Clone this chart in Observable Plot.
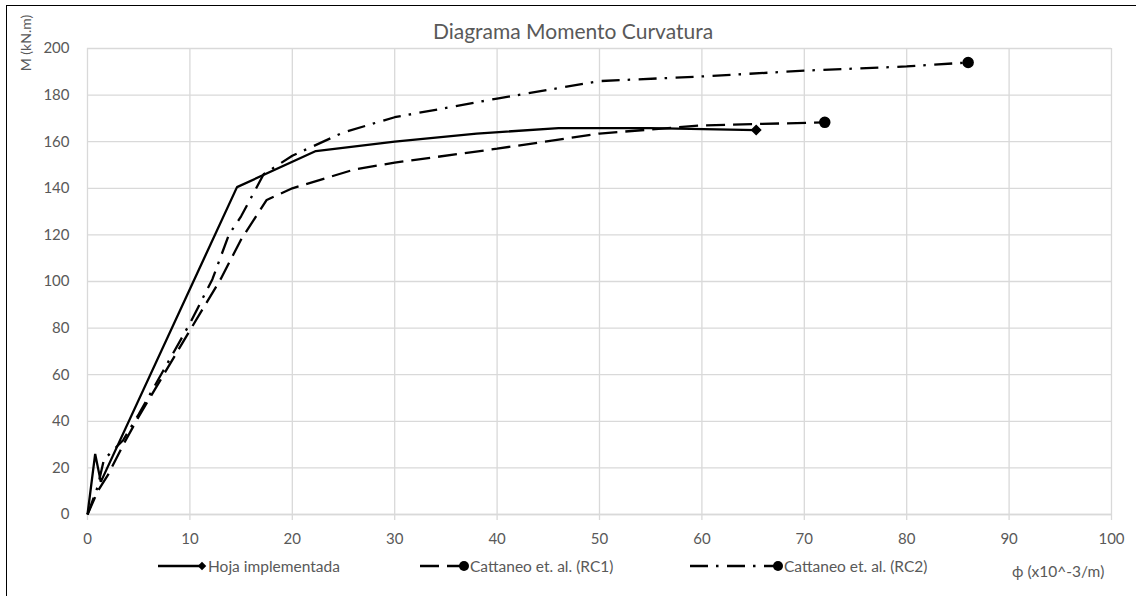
<!DOCTYPE html>
<html>
<head>
<meta charset="utf-8">
<script src="https://cdn.jsdelivr.net/npm/d3@7"></script>
<script src="https://cdn.jsdelivr.net/npm/@observablehq/plot@0.6"></script>
<style>
  html, body { margin: 0; padding: 0; background: #fff; }
  #wrap { position: relative; width: 1136px; height: 596px; overflow: hidden; font-family: Lato, "Open Sans", sans-serif; color: #595959; }
  #frame { position: absolute; left: 6px; top: 5px; width: 1140px; height: 600px; border: 1.5px solid #000; box-sizing: border-box; pointer-events: none; }
  #title { position: absolute; left: 0; width: 1146px; top: 18px; text-align: center; font-size: 21px; }
  #ylab { position: absolute; left: 25px; top: 43px; transform: translate(-50%, -50%) rotate(-90deg); font-size: 14px; white-space: nowrap; }
  #legend { position: absolute; left: 0; top: 555px; width: 1136px; height: 24px; }
  #legend .item { position: absolute; top: 0; display: flex; align-items: center; font-size: 15.5px; height: 22px; color: #595959; }
  #legend svg { display: block; }
  #phi { position: absolute; left: 1012px; top: 562px; font-size: 15.5px; white-space: nowrap; }
  #chart { position: absolute; left: 0; top: 0; }
</style>
</head>
<body>
<div id="wrap">
  <div id="chart"></div>
  <div id="title">Diagrama Momento Curvatura</div>
  <div id="ylab">M (kN.m)</div>
  <div id="legend"></div>
  <div id="phi">ϕ (x10^-3/m)</div>
  <div id="frame"></div>
</div>
<script>
// Series: curvature phi (x10^-3/m) and moment M (kN.m)
const hojaPhi = [0, 0.75, 1.3, 14.6, 22.3, 30, 38, 46, 55, 65.3];
const hojaM   = [0, 26, 14, 140.5, 156, 160, 163.5, 165.8, 165.8, 165];

const rc1Phi = [0, 1, 2, 3.5, 5, 10, 13, 15, 17.5, 20, 26, 30, 40, 50, 60, 72];
const rc1M   = [0, 10, 17, 30, 42, 79, 101, 118, 135, 140, 148, 151, 157, 163.5, 167, 168.3];

const rc2Phi = [0, 1, 1.6, 3.5, 5, 10, 12.2, 13.8, 15, 17.2, 20, 25, 30, 40, 50, 60, 70, 80, 86];
const rc2M   = [0, 12, 23.5, 32, 43, 82, 101, 120, 128, 146, 154, 164, 170.5, 178.5, 186, 188, 190.5, 192.3, 194];

const seriesNames = ["Hoja implementada", "Cattaneo et. al. (RC1)", "Cattaneo et. al. (RC2)"];
const xTicks = [0, 10, 20, 30, 40, 50, 60, 70, 80, 90, 100];
const yTicks = [0, 20, 40, 60, 80, 100, 120, 140, 160, 180, 200];

const toRows = (name, xs, ys) => xs.map((x, i) => ({series: name, phi: x, M: ys[i]}));
const hoja = toRows(seriesNames[0], hojaPhi, hojaM);
const rc1 = toRows(seriesNames[1], rc1Phi, rc1M);
const rc2 = toRows(seriesNames[2], rc2Phi, rc2M);

const styles = [
  {dash: null, symbol: "diamond2", r: 4},
  {dash: "19,8", symbol: "circle", r: 5},
  {dash: "18,8,2.5,8.5", symbol: "circle", r: 5}
];
const data = [hoja, rc1, rc2];

const marks = [
  Plot.gridX(xTicks, {stroke: "#d9d9d9", strokeOpacity: 1, strokeWidth: 1.3}),
  Plot.gridY(yTicks, {stroke: "#d9d9d9", strokeOpacity: 1, strokeWidth: 1.3}),
  Plot.axisX(xTicks, {tickSize: 6, stroke: "#d9d9d9", strokeWidth: 1.3, tickPadding: 13, fontSize: 15, fill: "#595959", label: null}),
  Plot.axisY(yTicks, {tickSize: 0, tickPadding: 18, fontSize: 15, fill: "#595959", label: null}),
  Plot.ruleY([0], {stroke: "#d9d9d9", strokeWidth: 1.3})
];
data.forEach((d, i) => {
  marks.push(Plot.line(d, {x: "phi", y: "M", stroke: "#000", strokeWidth: 2.3, strokeDasharray: styles[i].dash, strokeLinejoin: "miter", strokeLinecap: "butt"}));
  marks.push(Plot.dot(d.slice(-1), {x: "phi", y: "M", fill: "#000", stroke: "#000", symbol: styles[i].symbol, r: styles[i].r}));
});

const chart = Plot.plot({
  width: 1136,
  height: 596,
  marginLeft: 87,
  marginRight: 25,
  marginTop: 48,
  marginBottom: 82,
  style: {fontFamily: "Lato, 'Open Sans', sans-serif", background: "transparent", overflow: "visible"},
  x: {domain: [0, 100], axis: null},
  y: {domain: [0, 200], axis: null},
  marks
});
document.getElementById("chart").appendChild(chart);

// Legend (HTML + small inline svg samples)
const legendPos = [
  {left: 158, sample: 44},
  {left: 420, sample: 44},
  {left: 690, sample: 88}
];
const legend = document.getElementById("legend");
seriesNames.forEach((name, i) => {
  const item = document.createElement("div");
  item.className = "item";
  item.style.left = legendPos[i].left + "px";
  const w = legendPos[i].sample + 6;
  const s = d3.create("svg").attr("width", w).attr("height", 22);
  s.append("line").attr("x1", 0).attr("x2", legendPos[i].sample).attr("y1", 11).attr("y2", 11)
    .attr("stroke", "#000").attr("stroke-width", 2.3).attr("stroke-dasharray", styles[i].dash);
  if (styles[i].symbol === "circle") {
    s.append("circle").attr("cx", legendPos[i].sample).attr("cy", 11).attr("r", 5).attr("fill", "#000");
  } else {
    s.append("path").attr("transform", `translate(${legendPos[i].sample},11) rotate(45)`).attr("d", "M-3,-3H3V3H-3Z").attr("fill", "#000");
  }
  item.appendChild(s.node());
  const t = document.createElement("span");
  t.textContent = name;
  item.appendChild(t);
  legend.appendChild(item);
});
</script>
</body>
</html>
